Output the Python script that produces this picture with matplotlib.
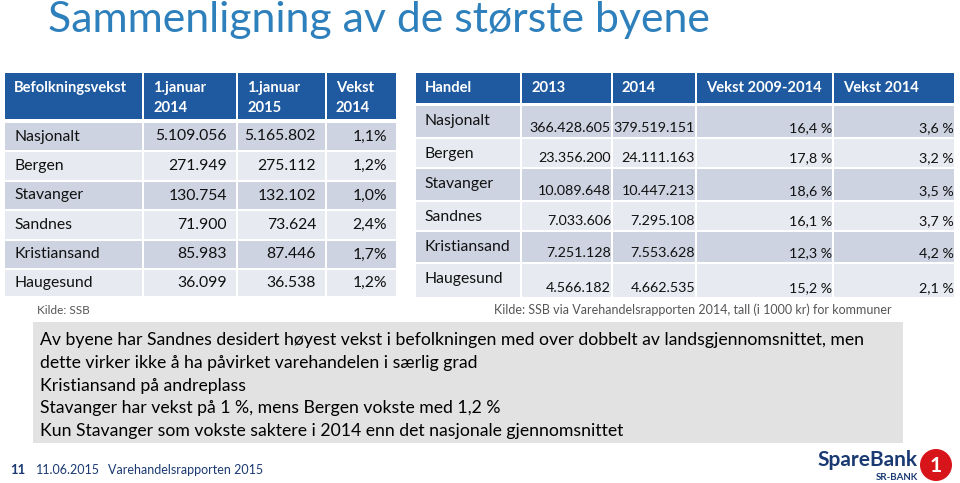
import matplotlib
matplotlib.use("Agg")
import matplotlib.pyplot as plt
from matplotlib.patches import Rectangle, Circle

plt.rcParams['font.family'] = ['Lato', 'DejaVu Sans']

# ---------------- data ----------------
cities = ["Nasjonalt", "Bergen", "Stavanger", "Sandnes", "Kristiansand", "Haugesund"]
pop_2014 = ["5.109.056", "271.949", "130.754", "71.900", "85.983", "36.099"]
pop_2015 = ["5.165.802", "275.112", "132.102", "73.624", "87.446", "36.538"]
pop_growth = ["1,1%", "1,2%", "1,0%", "2,4%", "1,7%", "1,2%"]
pop_headers = ["Befolkningsvekst", "1.januar\n2014", "1.januar\n2015", "Vekst\n2014"]

trade_2013 = ["366.428.605", "23.356.200", "10.089.648", "7.033.606", "7.251.128", "4.566.182"]
trade_2014 = ["379.519.151", "24.111.163", "10.447.213", "7.295.108", "7.553.628", "4.662.535"]
trade_growth_0914 = ["16,4 %", "17,8 %", "18,6 %", "16,1 %", "12,3 %", "15,2 %"]
trade_growth_2014 = ["3,6 %", "3,2 %", "3,5 %", "3,7 %", "4,2 %", "2,1 %"]
trade_headers = ["Handel", "2013", "2014", "Vekst 2009-2014", "Vekst 2014"]

title = "Sammenligning av de største byene"
source_left = "Kilde: SSB"
source_right = "Kilde: SSB via Varehandelsrapporten 2014, tall (i 1000 kr) for kommuner"
bullets = [
    "Av byene har Sandnes desidert høyest vekst i befolkningen med over dobbelt av landsgjennomsnittet, men",
    "dette virker ikke å ha påvirket varehandelen i særlig grad",
    "Kristiansand på andreplass",
    "Stavanger har vekst på 1 %, mens Bergen vokste med 1,2 %",
    "Kun Stavanger som vokste saktere i 2014 enn det nasjonale gjennomsnittet",
]
footer_num = "11"
footer_date = "11.06.2015"
footer_text = "Varehandelsrapporten 2015"

# ---------------- style ----------------
HEAD = "#1F5AA0"
DARK = "#CDD3E1"
LIGHT = "#E8EAF1"
TITLE_C = "#2E80BC"
NAVY = "#1B3A73"
BODY_FS = 11.3
HEAD_FS = 10.6
NUM_FS = 10.3

fig = plt.figure(figsize=(9.6, 4.83), dpi=100)
ax = fig.add_axes([0, 0, 1, 1])
ax.set_xlim(0, 960)
ax.set_ylim(483, 0)
ax.axis("off")

ax.text(48, 20, title, fontsize=30.8, color=TITLE_C, va="center", ha="left")

# ---------------- left table ----------------
lx = [4, 143, 237, 326, 397]
l_head = (73, 119)
l_top = [123, 152, 182, 211, 241, 270]
l_bot = [150, 180, 209, 239, 268, 296]
for i in range(4):
    ax.add_patch(Rectangle((lx[i] + 1, l_head[0]), lx[i + 1] - lx[i] - 2, l_head[1] - l_head[0],
                           color=HEAD, lw=0))
    lines = pop_headers[i].split("\n")
    for k, ln in enumerate(lines):
        ax.text(lx[i] + 10, 88 + 20 * k, ln, color="white", fontsize=HEAD_FS,
                fontweight="bold", va="center", ha="left")
for r in range(len(cities)):
    col = DARK if r % 2 == 0 else LIGHT
    for i in range(4):
        ax.add_patch(Rectangle((lx[i] + 1, l_top[r]), lx[i + 1] - lx[i] - 2, l_bot[r] - l_top[r],
                               color=col, lw=0))
    yc = (l_top[r] + l_bot[r]) / 2
    ax.text(14, yc, cities[r], fontsize=BODY_FS, va="center", ha="left", color="#111111")
    for i, vals in enumerate([pop_2014, pop_2015, pop_growth]):
        ax.text(lx[i + 2] - 10, yc, vals[r], fontsize=BODY_FS, va="center", ha="right",
                color="#111111")
ax.text(37, 310, source_left, fontsize=8.5, color="#555555", va="center", ha="left")

# ---------------- right table ----------------
rx = [415, 521, 612, 696, 833, 955]
r_head = (73, 103)
r_top = [106, 139, 169, 202, 232, 264]
r_bot = [137, 167, 200, 230, 262, 297]
for i in range(5):
    ax.add_patch(Rectangle((rx[i] + 1, r_head[0]), rx[i + 1] - rx[i] - 2, r_head[1] - r_head[0],
                           color=HEAD, lw=0))
    ax.text(rx[i] + 10, 88, trade_headers[i], color="white", fontsize=HEAD_FS,
            fontweight="bold", va="center", ha="left")
for r in range(len(cities)):
    col = DARK if r % 2 == 0 else LIGHT
    for i in range(5):
        ax.add_patch(Rectangle((rx[i] + 1, r_top[r]), rx[i + 1] - rx[i] - 2, r_bot[r] - r_top[r],
                               color=col, lw=0))
    ax.text(424, r_top[r] + 15, cities[r], fontsize=BODY_FS, va="center", ha="left",
            color="#111111")
    for i, vals in enumerate([trade_2013, trade_2014, trade_growth_0914, trade_growth_2014]):
        ax.text(rx[i + 2] - 1, r_bot[r] - 9, vals[r], fontsize=NUM_FS, va="center",
                ha="right", color="#111111")
ax.text(693, 310, source_right, fontsize=9.0, color="#555555", va="center", ha="center")

# ---------------- gray text box ----------------
ax.add_patch(Rectangle((33, 322), 870, 121, color="#E2E2E2", lw=0))
for k, ln in enumerate(bullets):
    ax.text(40, 340 + 22.8 * k, ln, fontsize=12.7, va="center", ha="left", color="#000000")

# ---------------- footer ----------------
ax.text(10, 470, footer_num, fontsize=9.5, fontweight="bold", color=NAVY, va="center", ha="left")
ax.text(36, 470, footer_date, fontsize=9, color=NAVY, va="center", ha="left")
ax.text(108, 470, footer_text, fontsize=9, color=NAVY, va="center", ha="left")

# logo
ax.text(918, 460, "SpareBank", fontsize=15, fontweight="bold", color=NAVY, va="center",
        ha="right")
ax.text(918, 478, "SR-BANK", fontsize=7, fontweight="bold", color=NAVY, va="center", ha="right")
ax.add_patch(Circle((936, 465), 16, color="#D7141A", lw=0))
ax.text(936, 466, "1", fontsize=15, fontweight="bold", color="white", va="center", ha="center")

fig.savefig("out.png", dpi=100)
